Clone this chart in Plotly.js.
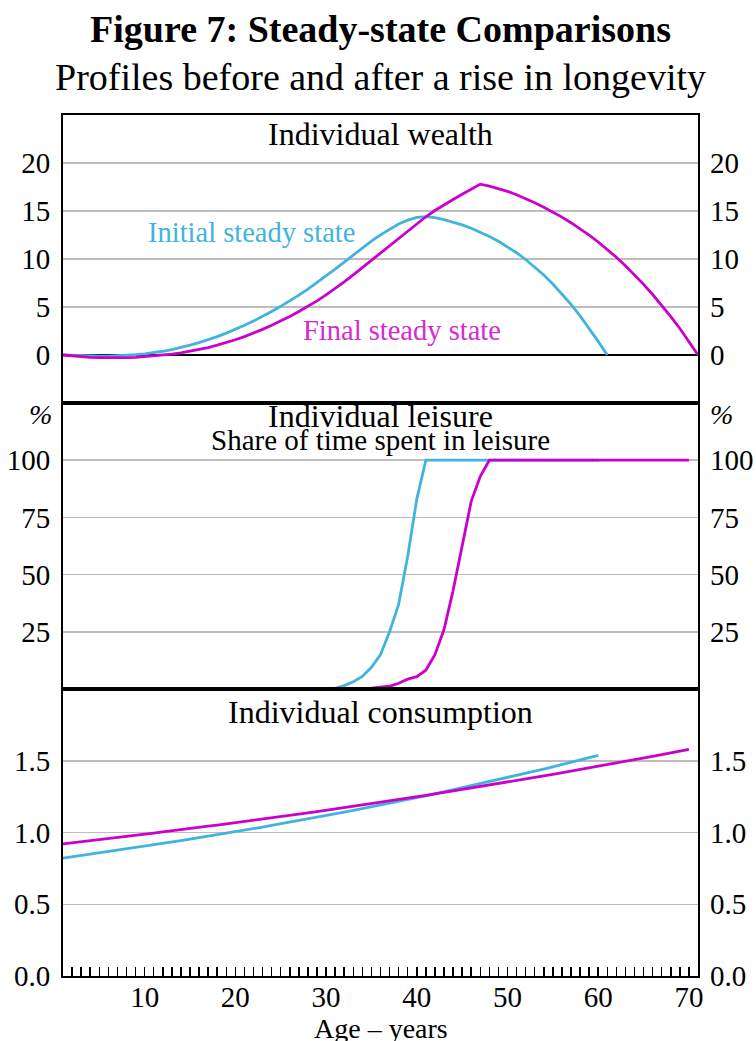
<!DOCTYPE html>
<html>
<head>
<meta charset="utf-8">
<script src="https://cdn.plot.ly/plotly-3.0.1.min.js"></script>
<style>
  html, body { margin: 0; padding: 0; background: #ffffff; }
  #chart { width: 756px; height: 1041px; }
</style>
</head>
<body>
<div id="chart"></div>
<script>
// ---------------- DATA ----------------
const ages = [1,2,3,4,5,6,7,8,9,10,11,12,13,14,15,16,17,18,19,20,21,22,23,24,25,26,27,28,29,30,
  31,32,33,34,35,36,37,38,39,40,41,42,43,44,45,46,47,48,49,50,51,52,53,54,55,56,57,58,59,60,
  61,62,63,64,65,66,67,68,69,70,71];

// Individual wealth (end of year), ages 1..61 and 1..71
const wealthInitial = [0,-0.05,-0.1,-0.12,-0.13,-0.12,-0.09,-0.04,0.03,0.12,
  0.24,0.39,0.57,0.78,1.02,1.29,1.59,1.92,2.28,2.67,
  3.09,3.54,4.02,4.53,5.07,5.64,6.24,6.87,7.53,8.22,
  8.94,9.68,10.42,11.15,11.86,12.52,13.12,13.64,14.05,14.33,
  14.42,14.32,14.1,13.85,13.55,13.2,12.8,12.35,11.85,11.28,
  10.65,9.95,9.18,8.33,7.4,6.38,5.27,4.07,2.78,1.42,
  0];
const wealthFinal = [0,-0.1,-0.18,-0.24,-0.28,-0.3,-0.3,-0.28,-0.24,-0.17,
  -0.09,0.0,0.1,0.23,0.39,0.57,0.78,1.02,1.29,1.59,
  1.92,2.28,2.67,3.09,3.54,4.02,4.53,5.07,5.64,6.26,
  6.92,7.62,8.35,9.1,9.87,10.64,11.4,12.15,12.88,13.65,
  14.4,15.05,15.65,16.2,16.75,17.3,17.8,17.6,17.35,17.05,
  16.7,16.3,15.87,15.4,14.9,14.36,13.78,13.16,12.49,11.77,
  11.0,10.18,9.3,8.36,7.36,6.3,5.18,4.0,2.76,1.43,
  0];

// Share of time spent in leisure (%), ages 1..60 and 1..70
const leisureInitial = [0,0,0,0,0,0,0,0,0,0,
  0,0,0,0,0,0,0,0,0,0,
  0,0,0,0,0,0,0,0,0,0,
  0.3,1.5,3.2,5.5,9.5,15,25,37,58,83,
  100,100,100,100,100,100,100,100,100,100,
  100,100,100,100,100,100,100,100,100,100];
const leisureFinal = [0,0,0,0,0,0,0,0,0,0,
  0,0,0,0,0,0,0,0,0,0,
  0,0,0,0,0,0,0,0,0,0,
  0,0,0,0.2,0.4,0.7,1.2,2.5,4.3,5.4,
  8.2,15,26,43,63,82,93,100,100,100,
  100,100,100,100,100,100,100,100,100,100,
  100,100,100,100,100,100,100,100,100,100];

// Individual consumption, ages 1..60 and 1..70
const consInitial = [0.821,0.830,0.839,0.848,0.857,0.866,0.875,0.884,0.894,0.903,
  0.913,0.923,0.933,0.943,0.953,0.963,0.973,0.984,0.994,1.005,
  1.016,1.027,1.038,1.049,1.060,1.071,1.083,1.094,1.106,1.118,
  1.130,1.142,1.154,1.166,1.179,1.191,1.204,1.217,1.230,1.243,
  1.256,1.270,1.283,1.297,1.311,1.325,1.339,1.353,1.368,1.382,
  1.397,1.412,1.427,1.442,1.458,1.473,1.489,1.505,1.521,1.537];
const consFinal = [0.921,0.928,0.936,0.943,0.950,0.958,0.965,0.973,0.980,0.988,
  0.996,1.004,1.011,1.019,1.027,1.035,1.044,1.052,1.060,1.068,
  1.077,1.085,1.094,1.102,1.111,1.120,1.128,1.137,1.146,1.155,
  1.164,1.173,1.183,1.192,1.201,1.211,1.220,1.230,1.240,1.249,
  1.259,1.269,1.279,1.289,1.299,1.309,1.320,1.330,1.341,1.351,
  1.362,1.372,1.383,1.394,1.405,1.416,1.427,1.438,1.450,1.461,
  1.473,1.484,1.496,1.508,1.519,1.531,1.543,1.556,1.568,1.580];

const wealthTicks = [0,5,10,15,20];
const leisureTicks = [25,50,75,100];
const consTicks = [0,0.5,1,1.5];
const consTickText = ['0.0','0.5','1.0','1.5'];

const seriesNames = ['Initial steady state','Final steady state'];

// ---------------- STYLE ----------------
const FONT = '"Liberation Serif", "Times New Roman", Times, serif';
const BLUE = '#40b4dc';
const MAG = '#cc00cc';
const GRID = '#bdbdbd';
const LW = 2.8;
const TICKFONT = {family: FONT, size: 29, color: '#000'};

function line(x, y, color, xa, ya, name) {
  return {x: x, y: y, type: 'scatter', mode: 'lines', name: name,
    xaxis: xa, yaxis: ya, line: {color: color, width: LW}, hoverinfo: 'skip', showlegend: false};
}

const traces = [
  line(ages.slice(0, wealthInitial.length), wealthInitial, BLUE, 'x', 'y', seriesNames[0]),
  line(ages.slice(0, wealthFinal.length), wealthFinal, MAG, 'x', 'y', seriesNames[1]),
  line(ages.slice(0, leisureInitial.length), leisureInitial, BLUE, 'x2', 'y2', seriesNames[0]),
  line(ages.slice(0, leisureFinal.length), leisureFinal, MAG, 'x2', 'y2', seriesNames[1]),
  line(ages.slice(0, consInitial.length), consInitial, BLUE, 'x3', 'y3', seriesNames[0]),
  line(ages.slice(0, consFinal.length), consFinal, MAG, 'x3', 'y3', seriesNames[1]),
  // empty traces to attach the right-hand duplicate axes
  {x: [], y: [], type: 'scatter', mode: 'lines', xaxis: 'x', yaxis: 'y4', showlegend: false, hoverinfo: 'skip'},
  {x: [], y: [], type: 'scatter', mode: 'lines', xaxis: 'x2', yaxis: 'y5', showlegend: false, hoverinfo: 'skip'},
  {x: [], y: [], type: 'scatter', mode: 'lines', xaxis: 'x3', yaxis: 'y6', showlegend: false, hoverinfo: 'skip'}
];

const D1 = [573/861, 1], D2 = [287/861, 573/861], D3 = [0, 287/861];
const XR = [1, 71];

function leftY(domain, range, tv, tt, zero) {
  const a = {domain: domain, range: range, tickmode: 'array', tickvals: tv,
    showgrid: true, gridcolor: GRID, gridwidth: 1.5,
    zeroline: !!zero, zerolinecolor: '#000', zerolinewidth: 1.5,
    showline: true, linecolor: '#000', linewidth: 2, mirror: true,
    ticks: '', ticklabelstandoff: 5, tickfont: TICKFONT, fixedrange: true};
  if (tt) a.ticktext = tt;
  return a;
}
function rightY(over, anchor, range, tv, tt) {
  const a = {overlaying: over, anchor: anchor, side: 'right', range: range, tickmode: 'array', tickvals: tv,
    showgrid: false, zeroline: false, showline: false, ticks: '', ticklabelstandoff: 11,
    tickfont: TICKFONT, fixedrange: true};
  if (tt) a.ticktext = tt;
  return a;
}
function hiddenX(anchor) {
  return {anchor: anchor, matches: 'x3', range: XR, showticklabels: false, ticks: '',
    showgrid: false, zeroline: false, showline: true, linecolor: '#000', linewidth: 2, mirror: true, fixedrange: true};
}

const layout = {
  width: 756, height: 1041,
  margin: {l: 63, r: 58, t: 115, b: 65},
  paper_bgcolor: '#fff', plot_bgcolor: '#fff',
  font: {family: FONT, color: '#000'},
  showlegend: false,
  title: {text: '<b>Figure 7: Steady-state Comparisons</b>', font: {family: FONT, size: 38, color: '#000'},
    x: 0.5, xanchor: 'center', xref: 'paper', yref: 'container', y: 1 - 29/1041, yanchor: 'middle'},
  xaxis: hiddenX('y'),
  xaxis2: hiddenX('y2'),
  xaxis3: {anchor: 'y3', domain: [0, 1], range: XR, tickmode: 'linear', tick0: 0, dtick: 10,
    ticks: 'inside', ticklen: 9, tickwidth: 1.5, tickcolor: '#000',
    minor: {tickmode: 'linear', tick0: 0, dtick: 1, ticks: 'inside', ticklen: 9, tickwidth: 1.5, tickcolor: '#000', showgrid: false},
    showgrid: false, zeroline: false, showline: true, linecolor: '#000', linewidth: 2, mirror: true,
    tickfont: TICKFONT, ticklabelstandoff: -6, fixedrange: true},
  yaxis: leftY(D1, [-5, 25], wealthTicks, null, true),
  yaxis2: leftY(D2, [0, 125], leisureTicks, null, false),
  yaxis3: leftY(D3, [0, 2], consTicks, consTickText, false),
  yaxis4: rightY('y', 'x', [-5, 25], wealthTicks, null),
  yaxis5: rightY('y2', 'x2', [0, 125], leisureTicks, null),
  yaxis6: rightY('y3', 'x3', [0, 2], consTicks, consTickText),
  annotations: [
    {text: 'Profiles before and after a rise in longevity', xref: 'paper', yref: 'paper', x: 0.5, y: (976-77)/861,
      xanchor: 'center', yanchor: 'middle', showarrow: false, font: {family: FONT, size: 38, color: '#000'}},
    {text: 'Individual wealth', xref: 'paper', yref: 'paper', x: 0.5, y: (976-134)/861,
      xanchor: 'center', yanchor: 'middle', showarrow: false, font: {family: FONT, size: 32, color: '#000'}},
    {text: 'Individual leisure', xref: 'paper', yref: 'paper', x: 0.5, y: (976-416)/861,
      xanchor: 'center', yanchor: 'middle', showarrow: false, font: {family: FONT, size: 32, color: '#000'}},
    {text: 'Share of time spent in leisure', xref: 'paper', yref: 'paper', x: 0.5, y: (976-440)/861,
      xanchor: 'center', yanchor: 'middle', showarrow: false, font: {family: FONT, size: 29, color: '#000'}},
    {text: 'Individual consumption', xref: 'paper', yref: 'paper', x: 0.5, y: (976-712)/861,
      xanchor: 'center', yanchor: 'middle', showarrow: false, font: {family: FONT, size: 32, color: '#000'}},
    {text: '<i>%</i>', xref: 'paper', yref: 'paper', x: (40-63)/635, y: (976-414)/861,
      xanchor: 'center', yanchor: 'middle', showarrow: false, font: {family: FONT, size: 28, color: '#000'}},
    {text: '<i>%</i>', xref: 'paper', yref: 'paper', x: (721-63)/635, y: (976-414)/861,
      xanchor: 'center', yanchor: 'middle', showarrow: false, font: {family: FONT, size: 28, color: '#000'}},
    {text: seriesNames[0], xref: 'x', yref: 'y', x: 21.8, y: 12.8,
      xanchor: 'center', yanchor: 'middle', showarrow: false, font: {family: FONT, size: 28.5, color: BLUE}},
    {text: seriesNames[1], xref: 'x', yref: 'y', x: 38.4, y: 2.6,
      xanchor: 'center', yanchor: 'middle', showarrow: false, font: {family: FONT, size: 28.5, color: '#d22bd2'}},
    {text: 'Age – years', xref: 'paper', yref: 'paper', x: 0.5, y: (976-1028)/861,
      xanchor: 'center', yanchor: 'middle', showarrow: false, font: {family: FONT, size: 28, color: '#000'}}
  ]
};

Plotly.newPlot('chart', traces, layout, {displayModeBar: false, staticPlot: true});
</script>
</body>
</html>
